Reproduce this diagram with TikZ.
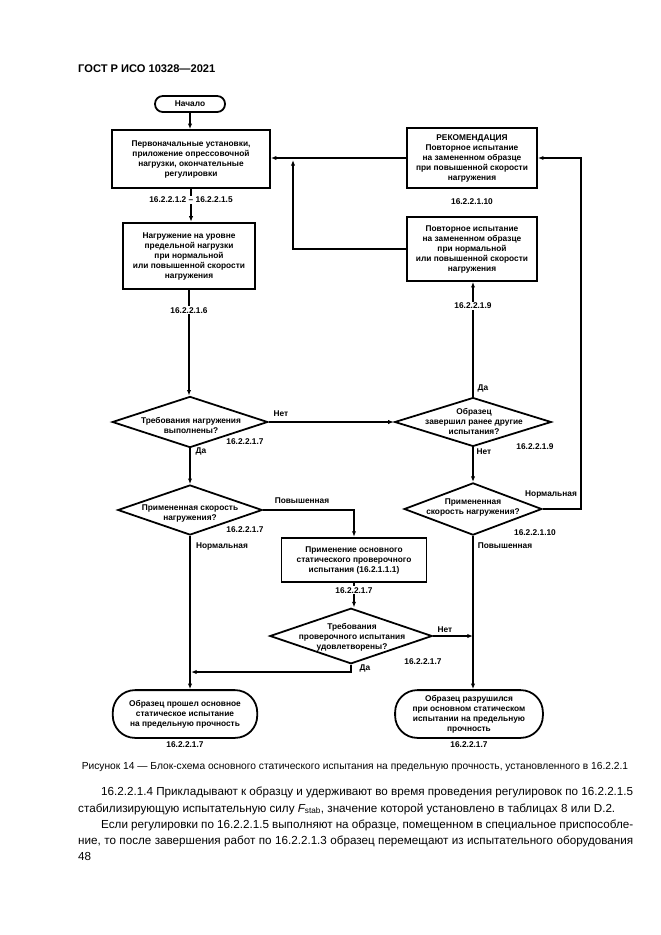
\documentclass[tikz,border=0pt]{standalone}
\usepackage{fontspec}
\setmainfont{Liberation Sans}
\usetikzlibrary{shapes.geometric, arrows.meta}

\newcommand{\chartfont}{\fontsize{7.5}{9}\selectfont\bfseries}
\newcommand{\bodyfont}{\fontsize{10.5}{14}\selectfont}

\tikzset{
    process/.style={draw, line width=1.6pt, rectangle, inner sep=0pt, align=center, font=\chartfont},
    terminal/.style={draw, line width=1.6pt, rectangle, rounded corners=#1, inner sep=0pt, align=center, font=\chartfont},
    decision/.style={draw, line width=1.6pt, diamond, inner sep=0pt},
    dtext/.style={align=center, font=\chartfont, inner sep=0pt},
    ref/.style={font=\chartfont, inner sep=1pt},
    arr/.style={line width=1.5pt, -{Latex[length=5pt, width=3.8pt]}}
}

\begin{document}
\begin{tikzpicture}[x=0.9pt, y=-0.9pt]

    % Page
    \fill[white] (0,0) rectangle (661,935);
    \useasboundingbox (0,0) rectangle (661,935);
    \node[anchor=base west, inner sep=0pt, font=\fontsize{10}{12}\selectfont\bfseries] (head) at (78,72) {ГОСТ Р ИСО 10328—2021};

    % Left column
    \node[terminal=7pt, minimum width=63pt, minimum height=14.4pt] (start) at (190,104) {Начало};
    \node[process, minimum width=142pt, minimum height=52pt] (setup) at (191,159) {Первоначальные установки,\\приложение опрессовочной\\нагрузки, окончательные\\регулировки};
    \node[process, minimum width=119pt, minimum height=60pt] (load) at (189,256) {Нагружение на уровне\\предельной нагрузки\\при нормальной\\или повышенной скорости\\нагружения};
    \node[decision, minimum width=140pt, minimum height=46pt] (reqok) at (190,422) {};
    \node[dtext] (reqoktxt) at (191,425) {Требования нагружения\\выполнены?};
    \node[decision, minimum width=130pt, minimum height=45pt] (rate) at (190,510) {};
    \node[dtext] (ratetxt) at (190,513) {Примененная скорость\\нагружения?};
    \node[process, minimum width=130.5pt, minimum height=40pt] (proof) at (354,560) {Применение основного\\статического проверочного\\испытания (16.2.1.1.1)};
    \node[decision, minimum width=146pt, minimum height=50pt] (proofok) at (351,636) {};
    \node[dtext] (proofoktxt) at (352,637) {Требования\\проверочного испытания\\удовлетворены?};
    \node[terminal=20pt, minimum width=130pt, minimum height=43pt] (pass) at (185,714) {Образец прошел основное\\статическое испытание\\на предельную прочность};

    % Right column
    \node[process, minimum width=117pt, minimum height=54pt] (recom) at (472,158) {РЕКОМЕНДАЦИЯ\\Повторное испытание\\на замененном образце\\при повышенной скорости\\нагружения};
    \node[process, minimum width=117pt, minimum height=57.6pt] (retest) at (472,249) {Повторное испытание\\на замененном образце\\при нормальной\\или повышенной скорости\\нагружения};
    \node[decision, minimum width=141pt, minimum height=44pt] (prior) at (473,422) {};
    \node[dtext] (priortxt) at (474,421) {Образец\\завершил ранее другие\\испытания?};
    \node[decision, minimum width=124pt, minimum height=47pt] (rate2) at (473,509) {};
    \node[dtext] (rate2txt) at (473,507) {Примененная\\скорость нагружения?};
    \node[terminal=20pt, minimum width=133pt, minimum height=43pt] (fail) at (469,714) {Образец разрушился\\при основном статическом\\испытании на предельную\\прочность};

    % Junctions
    \coordinate (back) at (293,160);
    \coordinate (merge) at (191,672);
    \coordinate (loop) at (581,158);

    % Connectors
    \draw[arr] (start) -- (start.south |- setup.north);
    \draw[arr] (setup.south) -- node[ref, fill=white, pos=0.34] (r1) {16.2.2.1.2 – 16.2.2.1.5} (setup.south |- load.north);
    \draw[arr] (load.south) -- node[ref, fill=white, pos=0.19] (r2) {16.2.2.1.6} (load.south |- reqok.north);
    \draw[arr] (reqok.east) -- (prior.west);
    \draw[arr] (reqok.south) -- (rate.north);
    \draw[arr] (rate.east) -| (proof.north);
    \draw[arr] (rate.south) -- (rate.south |- pass.north);
    \draw[arr] (proof.south) -- node[ref, fill=white, pos=0.3] (r3) {16.2.2.1.7} (proof.south |- proofok.north);
    \draw[arr] (proofok.south) |- (merge);
    \draw[arr] (proofok.east) -- (proofok.east -| rate2.south);
    \draw[arr] (prior.north) -- node[ref, fill=white, pos=0.79] (r4) {16.2.2.1.9} (prior.north |- retest.south);
    \draw[arr] (prior.south) -- (rate2.north);
    \draw[arr] (rate2.south) -- (rate2.south |- fail.north);
    \draw[arr] (rate2.east) -| (loop) -- (recom.east);
    \draw[arr] (recom.west) -- (recom.west -| setup.east);
    \draw[arr] (retest.west) -| (back);

    % Branch labels
    \node[ref] (n1) at (281,414) {Нет};
    \node[ref] (n2) at (245,442) {16.2.2.1.7};
    \node[ref] (n3) at (201,451) {Да};
    \node[ref] (n4) at (302,501) {Повышенная};
    \node[ref] (n5) at (245,530) {16.2.2.1.7};
    \node[ref] (n6) at (222,546) {Нормальная};
    \node[ref] (n7) at (445,630) {Нет};
    \node[ref] (n8) at (423,662) {16.2.2.1.7};
    \node[ref] (n9) at (365,668) {Да};
    \node[ref] (n10) at (483,388) {Да};
    \node[ref] (n11) at (484,452) {Нет};
    \node[ref] (n12) at (535,447) {16.2.2.1.9};
    \node[ref] (n13) at (551,494) {Нормальная};
    \node[ref] (n14) at (535,533) {16.2.2.1.10};
    \node[ref] (n15) at (505,546) {Повышенная};
    \node[ref] (n16) at (472,202) {16.2.2.1.10};
    \node[ref] (n17) at (185,745) {16.2.2.1.7};
    \node[ref] (n18) at (469,745) {16.2.2.1.7};

    % Caption and text
    \node[inner sep=0pt, font=\fontsize{9.2}{11}\selectfont] (caption) at (355,767) {Рисунок 14 — Блок-схема основного статического испытания на предельную прочность, установленного в 16.2.2.1};
    \node[anchor=base west, inner sep=0pt, font=\bodyfont] (p1) at (101,795) {\makebox[478.8pt][s]{16.2.2.1.4 Прикладывают к образцу и удерживают во время проведения регулировок по 16.2.2.1.5}};
    \node[anchor=base west, inner sep=0pt, font=\bodyfont] (p2) at (78,812) {стабилизирующую испытательную силу {\itshape F}\textsubscript{stab}, значение которой установлено в таблицах 8 или D.2.};
    \node[anchor=base west, inner sep=0pt, font=\bodyfont] (p3) at (101,828) {\makebox[478.8pt][s]{Если регулировки по 16.2.2.1.5 выполняют на образце, помещенном в специальное приспособле-}};
    \node[anchor=base west, inner sep=0pt, font=\bodyfont] (p4) at (78,844) {\makebox[499.5pt][s]{ние, то после завершения работ по 16.2.2.1.3 образец перемещают из испытательного оборудования}};
    \node[anchor=base west, inner sep=0pt, font=\bodyfont] (page) at (78,860) {48};

\end{tikzpicture}
\end{document}
